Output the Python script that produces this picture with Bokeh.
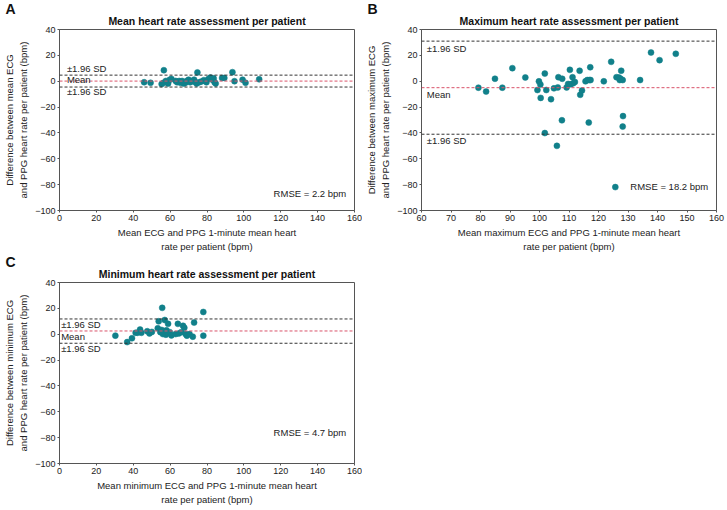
from bokeh.plotting import figure
from bokeh.models import Span, Label, Range1d, Title
from bokeh.layouts import column, row
from bokeh.embed import file_html
from bokeh.resources import INLINE

# ---------------- data ----------------
y_ticks = [-100, -80, -60, -40, -20, 0, 20, 40]
a_ticks = [0, 20, 40, 60, 80, 100, 120, 140, 160]
b_ticks = [60, 70, 80, 90, 100, 110, 120, 130, 140, 150, 160]
c_ticks = [0, 20, 40, 60, 80, 100, 120, 140, 160]

# Panel A: mean heart rate
a_mean_hr = [45.9, 49.4, 55.4, 56.4, 56.6, 57.7, 58.9, 59.8, 60.7, 63.0, 63.8, 64.9, 65.6, 66.5,
             67.4, 68.3, 69.1, 70.0, 70.9, 72.0, 73.0, 73.7, 74.8, 74.4, 75.8, 77.0, 78.3, 79.7,
             80.8, 81.8, 82.9, 83.6, 84.1, 84.7, 88.2, 89.4, 93.8, 94.9, 99.3, 100.9, 108.3]
a_diff = [-0.8, -1.2, -2.2, -1.2, 8.5, 0.2, -1.8, 1.2, 1.8, 0.2, -0.8, 0.2, -1.2, 0.2,
          -1.8, -1.2, 0.2, 1.2, -0.8, 0.2, 1.2, -0.8, 6.8, -1.8, -0.8, -0.2, 0.8, -0.8,
          1.8, 2.8, 1.2, 2.2, -0.8, -1.8, 2.5, 2.5, 7.0, 0.0, 1.2, -1.2, 1.5]
a_limits = [4.7, 0.1, -4.5]  # upper, mean, lower
a_rmse = "RMSE = 2.2 bpm"

# Panel B: maximum heart rate
b_mean_hr = [79.3, 81.9, 84.9, 87.4, 90.8, 95.2, 99.3, 99.8, 100.3, 100.4, 101.8, 102.3, 103.9,
             104.9, 106.2, 106.4, 107.7, 107.6, 101.8, 105.9, 109.2, 109.7, 110.3, 110.6, 111.2,
             111.4, 112.0, 113.6, 113.8, 114.4, 115.6, 116.2, 116.7, 116.9, 117.2, 117.3, 121.8,
             124.3, 126.1, 126.9, 125.7, 127.2, 127.5, 127.7, 128.2, 128.3, 128.2, 134.1, 137.8,
             140.7, 146.2]
b_diff = [-5.0, -8.0, 1.9, -5.0, 10.1, 2.9, -6.8, -0.1, -2.5, -12.9, 5.9, -6.8, -13.9,
          -5.5, -4.8, 3.1, 1.9, -30.2, -40.1, -50.0, -4.8, -2.1, 8.8, -2.4, 3.1,
          -1.6, -0.6, 8.1, -10.5, -7.2, -0.1, 0.9, -32.0, 0.9, 10.8, 0.9, -0.1,
          15.0, 3.1, 2.9, -81.9, 0.9, 1.9, 8.1, 0.9, -27.0, -35.1, 0.9, 22.2,
          16.3, 21.2]
b_limits = [31.0, -5.0, -41.0]
b_rmse = "RMSE = 18.2 bpm"

# Panel C: minimum heart rate
c_mean_hr = [30.3, 36.7, 39.3, 41.3, 42.3, 43.7, 44.4, 47.6, 48.8, 50.1, 53.3, 53.8, 54.7, 55.4,
             55.7, 56.1, 56.8, 57.1, 57.7, 58.0, 58.6, 58.9, 59.8, 60.7, 63.0, 64.2, 64.7, 66.0,
             67.0, 67.7, 68.4, 69.1, 70.5, 72.3, 73.0, 78.0, 78.0]
c_diff = [-1.1, -6.1, -3.1, 1.1, 1.1, 3.6, 1.1, 2.3, 0.6, 1.8, 4.6, 10.0, 1.6, 3.3,
          20.4, 0.1, 2.1, 11.0, -0.4, 3.0, 1.1, 8.0, 1.6, -0.9, 0.1, 8.0, 0.6, 1.6,
          6.5, 5.0, 0.1, -1.1, 0.1, -1.9, 9.0, 17.2, -1.1]
c_limits = [11.8, 2.5, -7.0]
c_rmse = "RMSE = 4.7 bpm"

# ---------------- style ----------------
FONT = "Liberation Sans"
TXT = "#222222"
AXC = "#555555"
PT = "#11808a"
MEANC = "#d9536a"
FW, FH = 295, 181


def panel(letter, title, xs, ys, xr, xticks, xlabel, ylabel, limits, rmse,
          sd_x, sd_up_y, mean_y, sd_lo_y, rmse_y, top_border, right_border):
    p = figure(frame_width=FW, frame_height=FH, x_range=Range1d(*xr), y_range=Range1d(-100, 40),
               output_backend="svg", toolbar_location=None, title=None,
               min_border_left=40, min_border_right=right_border,
               min_border_top=top_border, min_border_bottom=4)
    p.add_layout(Title(text=title, align="center", text_font=FONT, text_font_size="10.5px",
                       text_font_style="bold", text_color="#111111", standoff=5), "above")
    p.add_layout(Title(text=letter, align="left", vertical_align="top", offset=-54,
                       text_font=FONT, text_font_size="14px", text_font_style="bold",
                       text_color="#111111", standoff=-16), "above")
    p.grid.visible = False
    p.outline_line_color = AXC
    p.outline_line_width = 1
    p.outline_line_alpha = 1
    p.background_fill_color = "white"
    p.border_fill_color = "white"
    p.xaxis.ticker = xticks
    p.yaxis.ticker = y_ticks
    p.yaxis.major_label_overrides = {t: ("\u2212" + str(abs(t)) if t < 0 else str(t)) for t in y_ticks}
    p.xaxis.axis_label = xlabel
    p.yaxis.axis_label = ylabel
    for ax in (p.xaxis[0], p.yaxis[0]):
        ax.axis_line_color = AXC
        ax.major_tick_line_color = AXC
        ax.major_tick_out = 2
        ax.major_tick_in = 0
        ax.minor_tick_line_color = None
        ax.major_label_text_font = FONT
        ax.major_label_text_font_size = "9px"
        ax.major_label_text_color = TXT
        ax.major_label_standoff = 2
        ax.axis_label_text_font = FONT
        ax.axis_label_text_font_size = "9.5px"
        ax.axis_label_text_font_style = "normal"
        ax.axis_label_text_color = TXT
        ax.axis_label_standoff = 3
        ax.axis_label_text_line_height = 1.3

    up, mn, lo = limits
    p.add_layout(Span(location=up, dimension="width", line_color="#333333", line_dash="3 2", line_width=1))
    p.add_layout(Span(location=lo, dimension="width", line_color="#333333", line_dash="3 2", line_width=1))
    p.add_layout(Span(location=mn, dimension="width", line_color=MEANC, line_dash="3 2", line_width=1))

    p.scatter(xs, ys, size=6, fill_color=PT, line_color=PT, line_width=0.5)

    common = dict(text_font=FONT, text_font_size="9.5px", text_color=TXT, text_baseline="middle")
    p.add_layout(Label(x=sd_x, y=sd_up_y, text="\u00b11.96 SD", **common))
    p.add_layout(Label(x=sd_x, y=mean_y, text="Mean", **common))
    p.add_layout(Label(x=sd_x, y=sd_lo_y, text="\u00b11.96 SD", **common))
    p.add_layout(Label(x=xr[1] - 4.5 * (xr[1] - xr[0]) / 160, y=rmse_y, text=rmse,
                       text_align="right", **common))
    return p


pa = panel("A", "Mean heart rate assessment per patient", a_mean_hr, a_diff, (0, 160), a_ticks,
           "Mean ECG and PPG 1-minute mean heart\nrate per patient (bpm)",
           "Difference between mean ECG\nand PPG heart rate per patient (bpm)",
           a_limits, a_rmse, 4, 10.2, 1.5, -7.7, -86.6, 29, 8)
pb = panel("B", "Maximum heart rate assessment per patient", b_mean_hr, b_diff, (60, 160), b_ticks,
           "Mean maximum ECG and PPG 1-minute mean heart\nrate per patient (bpm)",
           "Difference between maximum ECG\nand PPG heart rate per patient (bpm)",
           b_limits, b_rmse, 61.8, 25.4, -10.0, -46.0, -81.2, 29, 10)
pc = panel("C", "Minimum heart rate assessment per patient", c_mean_hr, c_diff, (0, 160), c_ticks,
           "Mean minimum ECG and PPG 1-minute mean heart\nrate per patient (bpm)",
           "Difference between minimum ECG\nand PPG heart rate per patient (bpm)",
           c_limits, c_rmse, 0.9, 7.8, -2.1, -11.0, -76.2, 28, 8)

layout = column(row(pa, pb), pc)
open("out.html", "w").write(file_html(layout, INLINE))
